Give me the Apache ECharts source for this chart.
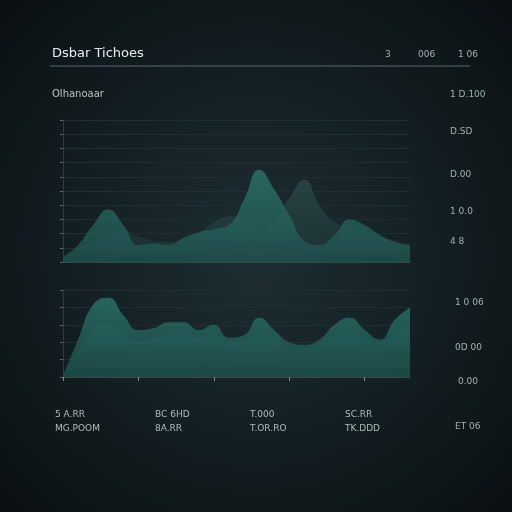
<!DOCTYPE html><html><head><meta charset="utf-8">
<script src="https://cdn.jsdelivr.net/npm/echarts@6/dist/echarts.min.js"></script>
<style>html,body{margin:0;background:#0d1416}#c{width:512px;height:512px}</style></head><body><div id="c"></div>
<script>
const categories=['1','2','3','4','5','6','7','8','9','10','11','12','13','14','15','16','17','18','19','20','21','22','23','24'];
const topFront=[3,12,26,37,26,12,13,12,17,21,23,26,44,65,51,33,15,12,19,30,26,19,14,12];
const topBack=[5,10,15,20,22,18,15,14,16,20,28,32,30,25,28,45,58,40,28,25,22,18,15,12];
const bottomFront=[2,43,83,91,71,54,56,63,63,54,60,45,48,68,54,40,37,43,60,68,54,43,66,80];
const bottomBack=[2,30,55,60,50,42,45,48,50,45,48,40,42,50,45,35,33,38,48,52,45,40,50,60];
const bottomLabels=[['5 A.RR','MG.POOM',55],['BC 6HD','8A.RR',155],['T.000','T.OR.RO',250],['SC.RR','TK.DDD',345]];
const rightLabels=[['3',385,55],['006',418,55],['1 06',458,55],['1 D.100',450,95],['D.SD',450,132],['D.00',450,175],['1 0.0',450,212],['4 8',450,242],['1 0 06',455,303],['0D 00',455,348],['0.00',458,382],['ET 06',455,427]];
const chart=echarts.init(document.getElementById('c'));
const fill=(a,b)=>new echarts.graphic.LinearGradient(0,0,0,1,[{offset:0,color:a},{offset:1,color:b}]);
const g=[];
g.push({type:'rect',shape:{x:0,y:0,width:512,height:512},style:{fill:new echarts.graphic.RadialGradient(0.5,0.5,0.7,[{offset:0,color:'#1d2e33'},{offset:1,color:'#0a1012'}])},z:-10});
g.push({type:'text',left:52,top:47,style:{text:'Dsbar Tichoes',fill:'#e8eeee',font:'13px "DejaVu Sans"'}});
g.push({type:'line',shape:{x1:50,y1:66,x2:470,y2:66},style:{stroke:'#5a6a6c',lineWidth:1}});
g.push({type:'text',left:52,top:89,style:{text:'Olhanoaar',fill:'#b8c4c4',font:'10px "DejaVu Sans"'}});
rightLabels.forEach(r=>g.push({type:'text',x:r[1],y:r[2],style:{text:r[0],fill:'#a0b0b0',font:'9px "DejaVu Sans"',textVerticalAlign:'middle'}}));
bottomLabels.forEach(b=>{g.push({type:'text',x:b[2],y:415,style:{text:b[0],fill:'#b0bcbc',font:'9px "DejaVu Sans"',textVerticalAlign:'middle'}});g.push({type:'text',x:b[2],y:429,style:{text:b[1],fill:'#b0bcbc',font:'9px "DejaVu Sans"',textVerticalAlign:'middle'}});});
const ax={type:'category',boundaryGap:false,data:categories,axisLine:{lineStyle:{color:'#3a4a4c'}},axisTick:{show:false},axisLabel:{show:false}};
const ay={type:'value',min:0,max:100,interval:10,axisLine:{show:true,lineStyle:{color:'#2e3e40'}},axisTick:{show:true,length:3,lineStyle:{color:'#667'}},axisLabel:{show:false},splitLine:{lineStyle:{color:'#1f2e30'}}};
chart.setOption({backgroundColor:'transparent',graphic:g,animation:false,
grid:[{left:63,right:102,top:120,height:142},{left:63,right:102,top:290,height:87}],
xAxis:[Object.assign({gridIndex:0},ax),Object.assign({gridIndex:1},ax,{axisTick:{show:true,interval:4,length:4,lineStyle:{color:'#889'}}})],
yAxis:[Object.assign({gridIndex:0},ay),Object.assign({gridIndex:1},ay,{interval:20})],
series:[
{type:'line',xAxisIndex:0,yAxisIndex:0,data:topBack,smooth:0.5,symbol:'none',lineStyle:{width:0},areaStyle:{color:fill('rgba(60,110,105,0.55)','rgba(30,60,60,0.5)')}},
{type:'line',xAxisIndex:0,yAxisIndex:0,data:topFront,smooth:0.5,symbol:'none',lineStyle:{width:0},areaStyle:{color:fill('#2f8278','#1f5551')}},
{type:'line',xAxisIndex:1,yAxisIndex:1,data:bottomBack,smooth:0.5,symbol:'none',lineStyle:{width:0},areaStyle:{color:'rgba(30,80,75,0.6)'}},
{type:'line',xAxisIndex:1,yAxisIndex:1,data:bottomFront,smooth:0.5,symbol:'none',lineStyle:{width:0},areaStyle:{color:fill('#2f8278','#1d4f4b')}}
]});
</script></body></html>
